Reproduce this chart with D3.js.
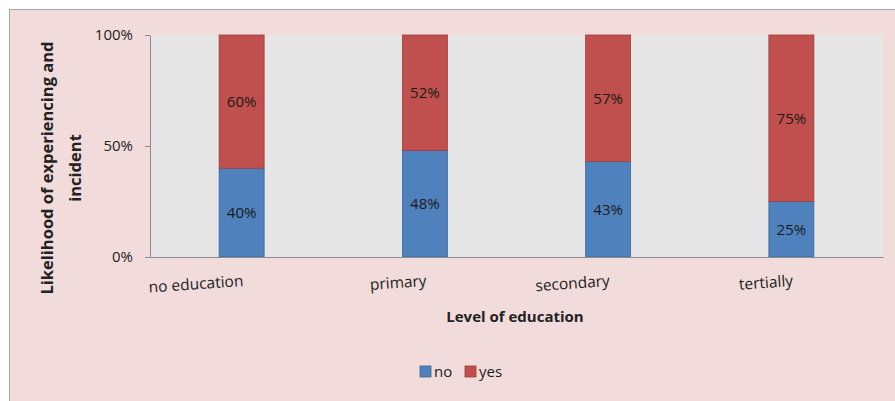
<!DOCTYPE html>
<html><head><meta charset="utf-8">
<script src="https://cdn.jsdelivr.net/npm/d3@7"></script>
<style>body{margin:0;background:#fff}svg{display:block}text{font-family:"Open Sans","Noto Sans",sans-serif}</style>
</head><body><svg id="c" width="895" height="401"></svg>
<script>
const categories = ["no education", "primary", "secondary", "tertially"];
const noValues = [40, 48, 43, 25];
const yesValues = [60, 52, 57, 75];
const seriesNames = ["no", "yes"];
const seriesColors = ["#4f81bd", "#c0504d"];
const yTicks = [0, 50, 100];

const svg = d3.select("#c");
svg.append("rect").attr("x", 9.5).attr("y", 9.5).attr("width", 900).attr("height", 400)
  .attr("fill", "#f2dcdb").attr("stroke", "#a6a6a6").attr("stroke-width", 1);

const m = {l: 150, r: 883, t: 35, b: 257};
const x = d3.scaleBand().domain(categories).range([m.l, m.r]).paddingInner(0).paddingOuter(0);
const y = d3.scaleLinear().domain([0, 100]).range([m.b, m.t]);
const barW = 45;

svg.append("rect").attr("x", m.l).attr("y", m.t).attr("width", m.r - m.l).attr("height", m.b - m.t).attr("fill", "#e6e6e6");

const stackData = categories.map((c, i) => ({cat: c, no: noValues[i], yes: yesValues[i]}));
const stack = d3.stack().keys(seriesNames)(stackData);

stack.forEach((s, si) => {
  const g = svg.append("g");
  g.selectAll("rect").data(s).enter().append("rect")
    .attr("x", d => x(d.data.cat) + x.bandwidth() / 2 - barW / 2)
    .attr("y", d => y(d[1]))
    .attr("width", barW)
    .attr("height", d => y(d[0]) - y(d[1]))
    .attr("fill", seriesColors[si])
    .attr("stroke", si === 0 ? "#3d6798" : "#9b3d3b").attr("stroke-width", 0.8);
  g.selectAll("text").data(s).enter().append("text")
    .attr("x", d => x(d.data.cat) + x.bandwidth() / 2)
    .attr("y", d => (y(d[0]) + y(d[1])) / 2)
    .attr("dy", "0.35em").attr("text-anchor", "middle")
    .attr("font-size", 15).attr("fill", "#1a1a1a")
    .text(d => (d[1] - d[0]) + "%");
});

// y axis
const yAxis = d3.axisLeft(y).tickValues(yTicks).tickFormat(d => d + "%").tickSize(5).tickSizeOuter(0);
const ya = svg.append("g").attr("transform", `translate(${m.l},0)`).call(yAxis);
ya.select(".domain").attr("stroke", "#8c8c8c");
ya.selectAll(".tick line").attr("stroke", "#8c8c8c");
ya.selectAll(".tick text").attr("font-size", 15).attr("fill", "#222").attr("x", -17)
  .style("font-family", "'Open Sans', sans-serif");

// x axis line
const xAxis = d3.axisBottom(x).tickSize(0).tickSizeOuter(0).tickFormat("");
const xa = svg.append("g").attr("transform", `translate(0,${m.b})`).call(xAxis);
xa.select(".domain").attr("stroke", "#8c8c8c");

// x tick labels (slightly rotated, end-anchored at the category center)
svg.append("g").selectAll("text").data(categories).enter().append("text")
  .attr("transform", d => `translate(${x(d) + x.bandwidth() / 2 + 2},${m.b + 29}) rotate(-4)`)
  .attr("text-anchor", "end").attr("font-size", 15.5).attr("fill", "#222")
  .text(d => d);

// axis titles
svg.append("text").attr("x", 515).attr("y", 322).attr("text-anchor", "middle")
  .attr("font-size", 15).attr("font-weight", "bold").attr("fill", "#222").text("Level of education");
const yt = svg.append("text").attr("transform", "translate(0,168) rotate(-90)")
  .attr("text-anchor", "middle").attr("font-size", 16.5).attr("font-weight", "bold").attr("fill", "#222");
yt.append("tspan").attr("x", 0).attr("y", 53).text("Likelihood of experiencing and");
yt.append("tspan").attr("x", 0).attr("y", 81).text("incident");

// legend
const lg = svg.append("g").attr("transform", "translate(420,366)");
const items = lg.selectAll("g").data(seriesNames).enter().append("g")
  .attr("transform", (d, i) => `translate(${i * 45},0)`);
items.append("rect").attr("width", 11).attr("height", 11)
  .attr("fill", (d, i) => seriesColors[i]).attr("stroke", (d, i) => i === 0 ? "#3d6798" : "#9b3d3b").attr("stroke-width", 0.8);
items.append("text").attr("x", 14).attr("y", 11).attr("font-size", 15).attr("fill", "#222").text(d => d);
</script></body></html>
